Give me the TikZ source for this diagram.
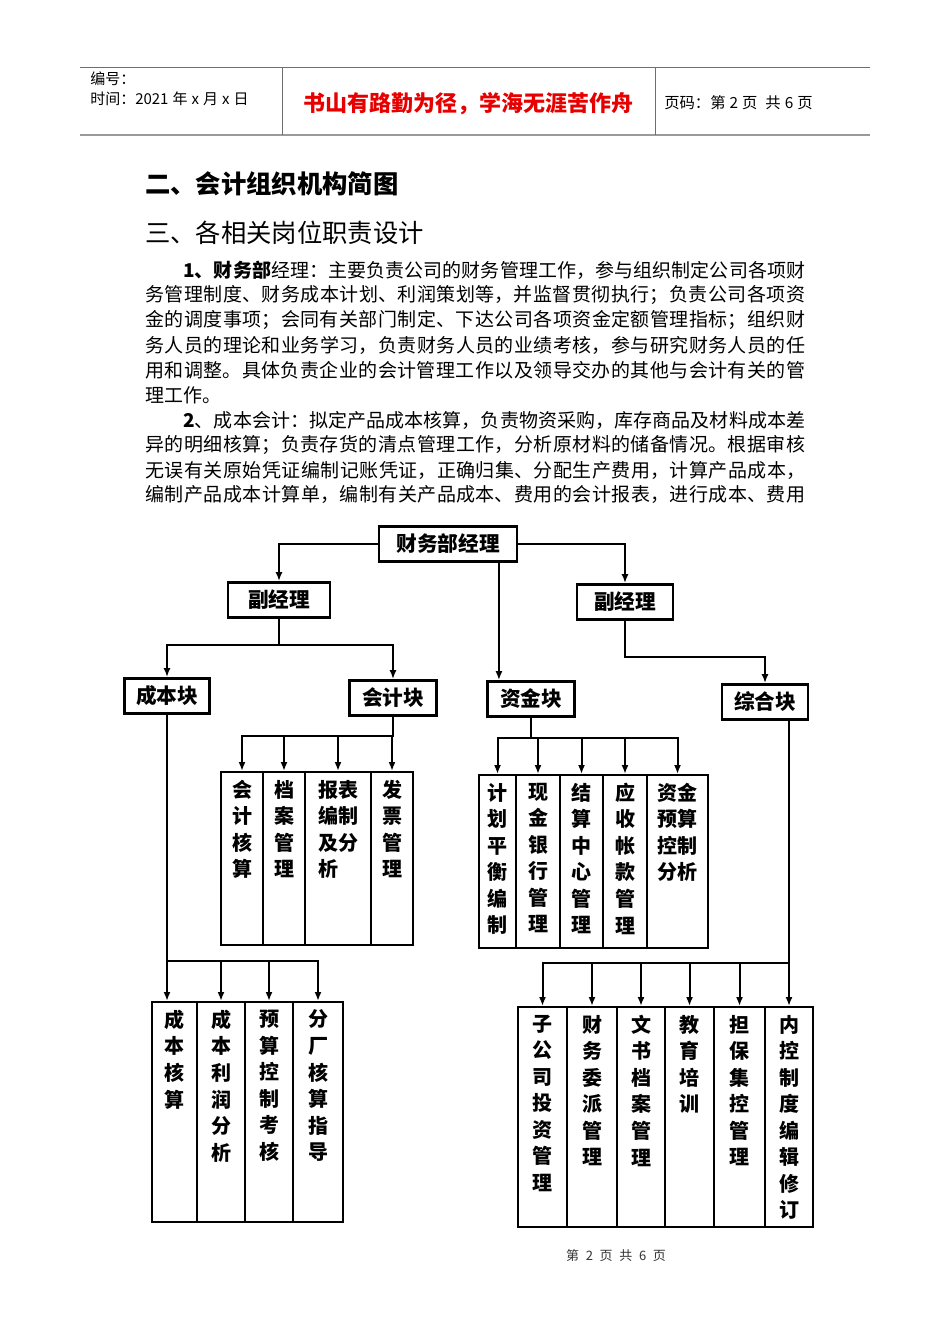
\documentclass[tikz,border=0pt]{standalone}
\usepackage{fontspec}
\setmainfont{Noto Sans CJK SC}
\usetikzlibrary{arrows.meta, calc}
\usepackage{xcolor}
\definecolor{mottored}{RGB}{230, 0, 0}
\definecolor{rulegray}{RGB}{110, 110, 110}
\newlength\pxu \setlength\pxu{0.75pt}
\XeTeXlinebreaklocale "zh"
\XeTeXlinebreakskip=0pt plus 4pt
% one duty column: width, height, characters top down
\newcommand{\vcol}[3]{\parbox[c][#2\pxu][t]{#1\pxu}{\centering\vspace*{8\pxu}#3}}
% one justified text line of given width
\newcommand{\fline}[2]{\parbox{#1\pxu}{\parindent=0pt\parfillskip=0pt\relax #2}}
\begin{document}
\begin{tikzpicture}[x=0.75pt, y=-0.75pt,
    line/.style={line width=1.5pt, black},
    arr/.style={line, -{Latex[length=6.75pt, width=5.25pt]}},
    chief/.style={rectangle, draw, line width=1.8pt, minimum width=#1, minimum height=26.5pt,
                  inner sep=0pt, font=\fontsize{15.5}{18}\selectfont\bfseries},
    duty/.style={rectangle, draw, line width=1.5pt, inner sep=0pt,
                 font=\fontsize{15}{19.9}\selectfont\bfseries},
    para/.style={anchor=west, inner sep=0pt, font=\fontsize{14.25}{18}\selectfont},
    head/.style={anchor=west, inner sep=0pt, font=\fontsize{11.25}{13}\selectfont}
]
\fill[white] (0,0) rectangle (950,1344);
\useasboundingbox (0,0) rectangle (950,1344);

% Header
\draw[line width=0.75pt, rulegray] (80,68) -- (870,68);
\draw[line width=1.5pt, rulegray!70] (80,135) -- (870,135);
\draw[line width=0.75pt, rulegray] (282,68) -- (282,135);
\draw[line width=0.75pt, rulegray] (655,68) -- (655,135);
\node[head] (num) at (90,79) {编号：};
\node[head] (date) at (90,99) {时间：2021\hspace{3pt}年\hspace{3pt}x\hspace{3pt}月\hspace{3pt}x\hspace{3pt}日};
\node[inner sep=0pt, text=mottored, font=\fontsize{16.5}{20}\selectfont\bfseries] (motto) at (468,104) {书山有路勤为径，学海无涯苦作舟};
\node[head, font=\fontsize{11.5}{13}\selectfont] (page) at (664,103) {页码：第\hspace{3pt}2\hspace{3pt}页\hspace{6pt}共\hspace{3pt}6\hspace{3pt}页};

% Headings
\node[para, font=\fontsize{19}{22}\selectfont\bfseries] (h2) at (145,184) {二、会计组织机构简图};
\node[para, font=\fontsize{19}{22}\selectfont] (h3) at (145,233) {三、各相关岗位职责设计};

% Text
\node[para] (p1) at (183,270) {\fline{622}{{\bfseries 1、财务部}经理：主要负责公司的财务管理工作，参与组织制定公司各项财}};
\node[para] (p2) at (145,295) {\fline{660}{务管理制度、财务成本计划、利润策划等，并监督贯彻执行；负责公司各项资}};
\node[para] (p3) at (145,320) {\fline{660}{金的调度事项；会同有关部门制定、下达公司各项资金定额管理指标；组织财}};
\node[para] (p4) at (145,345) {\fline{660}{务人员的理论和业务学习，负责财务人员的业绩考核，参与研究财务人员的任}};
\node[para] (p5) at (145,370) {\fline{660}{用和调整。具体负责企业的会计管理工作以及领导交办的其他与会计有关的管}};
\node[para] (p6) at (145,395) {理工作。};
\node[para] (p7) at (183,420) {\fline{622}{{\bfseries 2}、成本会计：拟定产品成本核算，负责物资采购，库存商品及材料成本差}};
\node[para] (p8) at (145,445) {\fline{660}{异的明细核算；负责存货的清点管理工作，分析原材料的储备情况。根据审核}};
\node[para] (p9) at (145,470) {\fline{660}{无误有关原始凭证编制记账凭证，正确归集、分配生产费用，计算产品成本，}};
\node[para] (p10) at (145,494) {\fline{660}{编制产品成本计算单，编制有关产品成本、费用的会计报表，进行成本、费用}};

% Manager and deputies
\node[chief=103.5pt] (cwjl) at (448,544) {财务部经理};
\node[chief=76.5pt] (fjl1) at (279,600) {副经理};
\node[chief=72pt] (fjl2) at (625,602) {副经理};

% Blocks
\node[chief=64pt] (cbk) at (167,696) {成本块};
\node[chief=65pt] (kjk) at (393,698) {会计块};
\node[chief=65pt] (zjk) at (531,699) {资金块};
\node[chief=64.5pt] (zhk) at (765,702) {综合块};

% Accounting duties
\node[duty] (g1a) at (242,858.5) {\vcol{42}{173}{会\\计\\核\\算}};
\node[duty] (g1b) at (284,858.5) {\vcol{42}{173}{档\\案\\管\\理}};
\node[duty] (g1c) at (338,858.5) {\vcol{66}{173}{报表\\编制\\及分\\析\phantom{分}}};
\node[duty] (g1d) at (392,858.5) {\vcol{42}{173}{发\\票\\管\\理}};

% Fund duties
\node[duty] (g2a) at (497.5,861.5) {\vcol{37}{173}{计\\划\\平\\衡\\编\\制}};
\node[duty] (g2b) at (538,861.5) {\vcol{44}{173}{现\\金\\银\\行\\管\\理}};
\node[duty] (g2c) at (581.5,861.5) {\vcol{43}{173}{结\\算\\中\\心\\管\\理}};
\node[duty] (g2d) at (625,861.5) {\vcol{44}{173}{应\\收\\帐\\款\\管\\理}};
\node[duty] (g2e) at (677.5,861.5) {\vcol{61}{173}{资金\\预算\\控制\\分析}};

% Cost duties
\node[duty] (g3a) at (174.5,1112) {\vcol{45}{220}{成\\本\\核\\算}};
\node[duty] (g3b) at (221,1112) {\vcol{48}{220}{成\\本\\利\\润\\分\\析}};
\node[duty] (g3c) at (269,1112) {\vcol{48}{220}{预\\算\\控\\制\\考\\核}};
\node[duty] (g3d) at (318,1112) {\vcol{50}{220}{分\\厂\\核\\算\\指\\导}};

% General duties
\node[duty] (g4a) at (542.5,1117) {\vcol{49}{220}{子\\公\\司\\投\\资\\管\\理}};
\node[duty] (g4b) at (592,1117) {\vcol{50}{220}{财\\务\\委\\派\\管\\理}};
\node[duty] (g4c) at (641,1117) {\vcol{48}{220}{文\\书\\档\\案\\管\\理}};
\node[duty] (g4d) at (689.5,1117) {\vcol{49}{220}{教\\育\\培\\训}};
\node[duty] (g4e) at (739.5,1117) {\vcol{51}{220}{担\\保\\集\\控\\管\\理}};
\node[duty] (g4f) at (789,1117) {\vcol{48}{220}{内\\控\\制\\度\\编\\辑\\修\\订}};

% Connections
\draw[arr] (cwjl.west) -| (fjl1.north);
\draw[arr] (cwjl.east) -| (fjl2.north);
\coordinate (zjin) at ($(zjk.north west)!0.14!(zjk.north east)$);
\draw[arr] (zjin |- cwjl.south) -- (zjin);
\draw[arr] (fjl1.south) -- ++(0,26) -| (cbk.north);
\draw[arr] (fjl1.south) -- ++(0,26) -| (kjk.north);
\draw[arr] (fjl2.south) -- ++(0,36) -| (zhk.north);

\foreach \c in {g1a,g1b,g1c,g1d}
    \draw[arr] (kjk.south) -- ++(0,19) -| (\c.north);
\foreach \c in {g2a,g2b,g2c,g2d,g2e}
    \draw[arr] (zjk.south) -- ++(0,20) -| (\c.north);

\coordinate (cbus) at ($(cbk.south)+(0,246)$);
\draw[arr] (cbk.south) -- (cbk.south |- g3a.north);
\foreach \c in {g3b,g3c,g3d}
    \draw[arr] (cbus) -| (\c.north);

\coordinate (zbus) at ($(zhk.south)+(0,242)$);
\draw[arr] (g4f.north |- zhk.south) -- (g4f.north);
\foreach \c in {g4a,g4b,g4c,g4d,g4e}
    \draw[arr] (g4f.north |- zbus) -| (\c.north);

% Footer
\node[inner sep=0pt, text=black!80, font=\fontsize{9.75}{12}\selectfont] (foot) at (616,1256)
    {第\hspace{5pt}2\hspace{5pt}页\hspace{5pt}共\hspace{5pt}6\hspace{5pt}页};
\end{tikzpicture}
\end{document}
